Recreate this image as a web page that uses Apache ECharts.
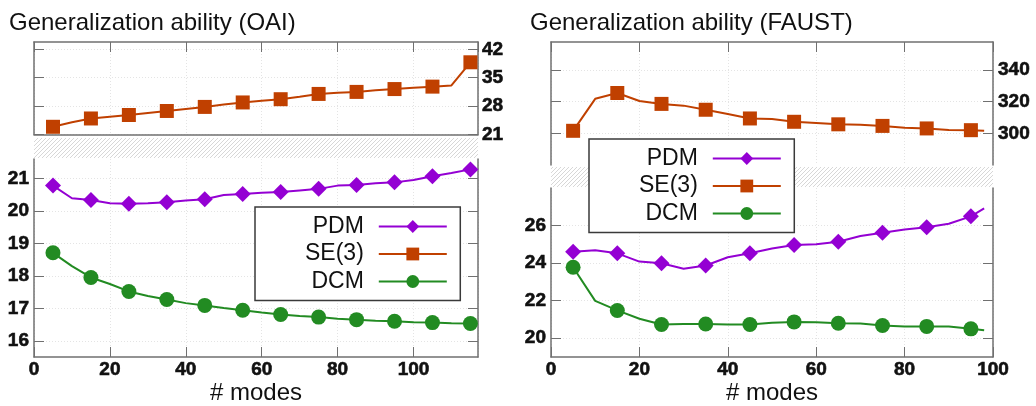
<!DOCTYPE html>
<html>
<head>
<meta charset="utf-8">
<script src="https://cdn.jsdelivr.net/npm/echarts@6/dist/echarts.min.js"></script>
<style>
  html, body { margin: 0; padding: 0; background: #fff; }
  #chart { width: 1036px; height: 406px; }
</style>
</head>
<body>
<div id="chart"></div>
<script>
// ---- OAI dataset: generalization error vs. number of modes ----
const oaiModes = [5, 10, 15, 20, 25, 30, 35, 40, 45, 50, 55, 60, 65, 70, 75, 80, 85, 90, 95, 100, 105, 110, 115];
const oaiPDM = [20.78, 20.39, 20.34, 20.24, 20.22, 20.24, 20.27, 20.32, 20.36, 20.49, 20.52, 20.56, 20.58, 20.63, 20.68, 20.78, 20.80, 20.85, 20.88, 20.95, 21.07, 21.17, 21.28];
const oaiSE3 = [22.9, 24.0, 24.95, 25.4, 25.8, 26.3, 26.8, 27.3, 27.8, 28.4, 28.9, 29.3, 29.7, 30.3, 31.0, 31.3, 31.5, 31.9, 32.2, 32.5, 32.8, 33.1, 38.8];
const oaiDCM = [18.71, 18.30, 17.95, 17.75, 17.52, 17.38, 17.27, 17.16, 17.09, 17.01, 16.94, 16.87, 16.81, 16.76, 16.73, 16.68, 16.65, 16.62, 16.60, 16.57, 16.56, 16.54, 16.53];

// ---- FAUST dataset ----
const faustModes = [5, 10, 15, 20, 25, 30, 35, 40, 45, 50, 55, 60, 65, 70, 75, 80, 85, 90, 95, 98];
const faustPDM = [24.60, 24.69, 24.52, 24.08, 23.99, 23.70, 23.87, 24.31, 24.53, 24.78, 24.97, 25.00, 25.14, 25.44, 25.62, 25.79, 25.91, 26.10, 26.49, 26.92];
const faustSE3 = [301.6, 321.8, 325.5, 320.4, 318.6, 317.5, 314.9, 312.2, 309.4, 309.1, 307.3, 306.5, 305.7, 305.5, 304.7, 303.5, 303.1, 302.1, 302.0, 301.6];
const faustDCM = [23.78, 21.99, 21.48, 21.04, 20.73, 20.76, 20.76, 20.73, 20.73, 20.82, 20.87, 20.85, 20.80, 20.78, 20.68, 20.63, 20.63, 20.63, 20.50, 20.42];

// ---- tick labels ----
const oaiTopTicks = [21, 28, 35, 42];
const oaiBottomTicks = [16, 17, 18, 19, 20, 21];
const faustTopTicks = [300, 320, 340];
const faustBottomTicks = [20, 22, 24, 26];

const seriesNames = ['PDM', 'SE(3)', 'DCM'];
const titles = ['Generalization ability (OAI)', 'Generalization ability (FAUST)'];
const xName = '# modes';

// ---- styling ----
const FONT = 'Arial, "Liberation Sans", Helvetica, sans-serif';
const COLORS = { 'PDM': '#9400d3', 'SE(3)': '#c04000', 'DCM': '#228b22' };
const SYMBOLS = { 'PDM': ['diamond', 16], 'SE(3)': ['rect', 14], 'DCM': ['circle', 15] };
const FRAME = '#707070';

// plot areas: [oai top, oai bottom, faust top, faust bottom]
const grids = [
  { left: 34, top: 42, width: 444, height: 92.5 },
  { left: 34, top: 159, width: 444, height: 199 },
  { left: 551, top: 42, width: 442, height: 123 },
  { left: 551, top: 188, width: 442, height: 172 }
];

const frameLine = { show: true, onZero: false, lineStyle: { color: FRAME, width: 1.5 } };
const noLine = { show: false };
const gridLine = { show: true, lineStyle: { color: '#e4e4e4', width: 1, type: [1, 2] } };

// bold numerals for the tick labels
const boldRich = { b: { fontSize: 19, fontWeight: 'bold', color: '#111', fontFamily: FONT, textBorderColor: '#111', textBorderWidth: 0.6 } };
const tickLabelStyle = { fontSize: 19, fontWeight: 'bold', color: '#111', fontFamily: FONT, formatter: '{b|{value}}', rich: boldRich };

function tick(values) {
  const t = { show: true, inside: true, length: 10, lineStyle: { color: FRAME, width: 1 } };
  if (values) t.customValues = values;
  return t;
}

function xAxis(gridIndex, max, position, o) {
  return {
    type: 'value', gridIndex, position, min: 0, max, interval: 20,
    axisLine: o.line ? frameLine : noLine,
    axisTick: o.ticks ? tick() : { show: false },
    axisLabel: o.labels
      ? Object.assign({ show: true, margin: 3, showMaxLabel: o.showMax }, tickLabelStyle)
      : { show: false },
    splitLine: o.split ? gridLine : { show: false },
    name: o.name || '',
    nameLocation: 'middle',
    nameGap: 24,
    nameTextStyle: { fontSize: 24, color: '#111', fontFamily: FONT }
  };
}

function yAxis(gridIndex, position, min, max, o) {
  const a = {
    type: 'value', gridIndex, position, min, max,
    axisLine: o.line === false ? noLine : frameLine,
    axisTick: tick(o.ticks),
    axisLabel: o.labels
      ? Object.assign({ show: true, margin: o.margin, customValues: o.labels }, tickLabelStyle)
      : { show: false },
    splitLine: o.split ? gridLine : { show: false }
  };
  if (o.interval) a.interval = o.interval;
  return a;
}

// bottom / top x axes per plot area
const xAxes = [
  xAxis(0, 117, 'bottom', { line: true, split: true }),
  xAxis(0, 117, 'top', { line: true, ticks: true }),
  xAxis(1, 117, 'bottom', { line: true, ticks: true, labels: true, showMax: false, split: true, name: xName }),
  xAxis(1, 117, 'top', {}),
  xAxis(2, 100, 'bottom', { split: true }),
  xAxis(2, 100, 'top', { line: true, ticks: true }),
  xAxis(3, 100, 'bottom', { line: true, ticks: true, labels: true, showMax: true, split: true, name: xName }),
  xAxis(3, 100, 'top', {})
];

// left / right y axes per plot area
const yAxes = [
  yAxis(0, 'left', 21, 43.8, { interval: 7, ticks: oaiTopTicks, split: true }),
  yAxis(0, 'right', 21, 43.8, { interval: 7, ticks: oaiTopTicks, labels: oaiTopTicks, margin: 4 }),
  yAxis(1, 'left', 15.5, 21.6, { ticks: oaiBottomTicks, labels: oaiBottomTicks, margin: 5, split: true }),
  yAxis(1, 'right', 15.5, 21.6, { ticks: oaiBottomTicks }),
  yAxis(2, 'left', 280, 357.7, { interval: 20, ticks: faustTopTicks, split: true }),
  yAxis(2, 'right', 280, 357.7, { interval: 20, ticks: faustTopTicks, labels: faustTopTicks, margin: 5 }),
  yAxis(3, 'left', 19, 28, { ticks: faustBottomTicks, labels: faustBottomTicks, margin: 5, split: true }),
  yAxis(3, 'right', 19, 28, { ticks: faustBottomTicks })
];

// markers on the samples 5, 15, 25, ...; plain polyline through the rest
function points(modes, values) {
  return modes.map((m, i) => (m % 10 === 5)
    ? [m, values[i]]
    : { value: [m, values[i]], symbol: 'none' });
}

function lineSeries(name, gridIndex, modes, values) {
  return {
    name, type: 'line',
    xAxisIndex: 2 * gridIndex, yAxisIndex: 2 * gridIndex,
    data: points(modes, values),
    symbol: SYMBOLS[name][0], symbolSize: SYMBOLS[name][1],
    showSymbol: true, showAllSymbol: true,
    color: COLORS[name],
    itemStyle: { color: COLORS[name] },
    lineStyle: { color: COLORS[name], width: 2 },
    clip: false,
    animation: false
  };
}

const series = [
  lineSeries('PDM', 1, oaiModes, oaiPDM),
  lineSeries('SE(3)', 0, oaiModes, oaiSE3),
  lineSeries('DCM', 1, oaiModes, oaiDCM),
  lineSeries('PDM', 3, faustModes, faustPDM),
  lineSeries('SE(3)', 2, faustModes, faustSE3),
  lineSeries('DCM', 3, faustModes, faustDCM)
];

function legend(left, top) {
  return {
    data: seriesNames, orient: 'vertical', align: 'right',
    left, top,
    itemWidth: 68, itemHeight: 16, itemGap: 4.5,
    padding: [8, 12.5, 7.5, 50],
    backgroundColor: '#fff', borderColor: '#3a3a3a', borderWidth: 1.5,
    textStyle: { fontSize: 23, color: '#111', fontFamily: FONT, padding: [0, 10, 0, 0] },
    selectedMode: false, z: 10
  };
}

// diagonal hatching for the broken-axis band
function hatchPattern() {
  const s = 4;
  const c = document.createElement('canvas');
  c.width = s; c.height = s;
  const ctx = c.getContext('2d');
  ctx.strokeStyle = '#d2d2d2';
  ctx.lineWidth = 0.9;
  ctx.beginPath();
  ctx.moveTo(0, s); ctx.lineTo(s, 0);
  ctx.moveTo(-1, 1); ctx.lineTo(1, -1);
  ctx.moveTo(s - 1, s + 1); ctx.lineTo(s + 1, s - 1);
  ctx.stroke();
  return c;
}
const pattern = hatchPattern();

function breakBand(upper, lower, padTop, padBottom) {
  const y0 = upper.top + upper.height + padTop;
  const y1 = lower.top - padBottom;
  return {
    type: 'rect', z: 1, silent: true,
    shape: { x: upper.left, y: y0, width: upper.width, height: y1 - y0 },
    style: { fill: { image: pattern, repeat: 'repeat' } }
  };
}

const option = {
  backgroundColor: '#fff',
  animation: false,
  textStyle: { fontFamily: FONT },
  title: [
    { text: titles[0], left: 9, top: 11, padding: 0, textStyle: { fontSize: 24, fontWeight: 'normal', color: '#111', fontFamily: FONT } },
    { text: titles[1], left: 530, top: 11, padding: 0, textStyle: { fontSize: 24, fontWeight: 'normal', color: '#111', fontFamily: FONT } }
  ],
  grid: grids.map(g => Object.assign({ containLabel: false, show: false }, g)),
  xAxis: xAxes,
  yAxis: yAxes,
  legend: [legend(255, 207), legend(589, 139)],
  graphic: [
    breakBand(grids[0], grids[1], 3.5, 1),
    breakBand(grids[2], grids[3], 2, 1)
  ],
  series
};

const chart = echarts.init(document.getElementById('chart'), null, { renderer: 'canvas' });
chart.setOption(option);
</script>
</body>
</html>
